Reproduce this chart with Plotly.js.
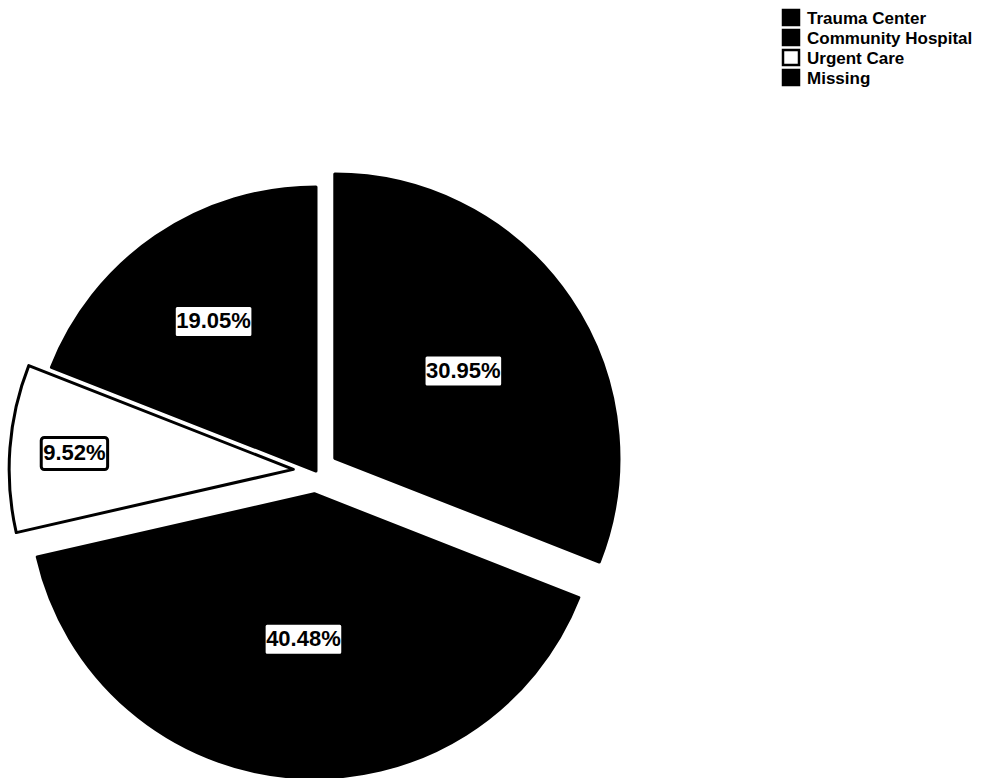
<!DOCTYPE html>
<html>
<head>
<meta charset="utf-8">
<script src="https://cdn.plot.ly/plotly-3.0.1.min.js"></script>
<style>
  html, body { margin: 0; padding: 0; background: #fff; }
  #chart { width: 1000px; height: 778px; }
</style>
</head>
<body>
<div id="chart"></div>
<script>
// Data
const categories = ['Trauma Center', 'Community Hospital', 'Urgent Care', 'Missing'];
const percentages = [30.95, 40.48, 9.52, 19.05];
const sliceColors = ['#000000', '#000000', '#ffffff', '#000000'];
const slicePull = [0.08, 0.08, 0.08, 0];

const trace = {
  type: 'pie',
  labels: categories,
  values: percentages,
  sort: false,
  direction: 'clockwise',
  rotation: 0,
  pull: slicePull,
  marker: { colors: sliceColors, line: { color: '#000000', width: 3 } },
  texttemplate: '%{value:.2f}%',
  textposition: 'inside',
  insidetextorientation: 'horizontal',
  textfont: { family: 'Liberation Sans, Arial, sans-serif', size: 22, color: '#000000', weight: 'bold' },
  hoverinfo: 'none',
  domain: { x: [0.009, 0.623], y: [0, 0.789] }
};

const layout = {
  width: 1000,
  height: 778,
  margin: { l: 0, r: 0, t: 0, b: 0 },
  paper_bgcolor: '#ffffff',
  plot_bgcolor: '#ffffff',
  showlegend: true,
  legend: {
    x: 0.767, xanchor: 'left',
    y: 1, yanchor: 'top',
    traceorder: 'normal',
    font: { family: 'Liberation Sans, Arial, sans-serif', size: 17, color: '#000000', weight: 'bold' },
    bgcolor: 'rgba(0,0,0,0)',
    tracegroupgap: 0
  }
};

Plotly.newPlot('chart', [trace], layout, { displayModeBar: false, staticPlot: true }).then(function () {
  const svgNS = 'http://www.w3.org/2000/svg';
  // white boxes with black border behind each slice label
  document.querySelectorAll('#chart g.slicetext').forEach(function (g) {
    const t = g.querySelector('text');
    if (!t) return;
    const bb = t.getBBox();
    const rect = document.createElementNS(svgNS, 'rect');
    const padX = 2, padY = 4;
    rect.setAttribute('x', bb.x - padX);
    rect.setAttribute('y', bb.y - padY + 1);
    rect.setAttribute('width', bb.width + 2 * padX);
    rect.setAttribute('height', bb.height + 2 * padY - 1);
    rect.setAttribute('fill', '#ffffff');
    rect.setAttribute('stroke', '#000000');
    rect.setAttribute('stroke-width', '3');
    rect.setAttribute('rx', '3');
    const tr = t.getAttribute('transform');
    if (tr) rect.setAttribute('transform', tr);
    g.insertBefore(rect, t);
  });
  // tighter legend rows and larger swatches, as in the reference
  const items = document.querySelectorAll('#chart .legend g.traces');
  const rowGap = 20;
  let y0 = null;
  items.forEach(function (it, i) {
    const tr = it.getAttribute('transform') || '';
    const m = tr.match(/translate\(\s*([-\d.]+)[ ,]+([-\d.]+)\s*\)/);
    if (!m) return;
    if (y0 === null) y0 = parseFloat(m[2]);
    it.setAttribute('transform', 'translate(' + m[1] + ',' + (y0 + i * rowGap) + ')');
  });
  document.querySelectorAll('#chart .legendpoints path').forEach(function (p) {
    p.setAttribute('d', 'M12,7.5H-4V-7.5H12Z');
    p.style.strokeWidth = '2.5px';
    p.style.stroke = '#000000';
  });
});
</script>
</body>
</html>
